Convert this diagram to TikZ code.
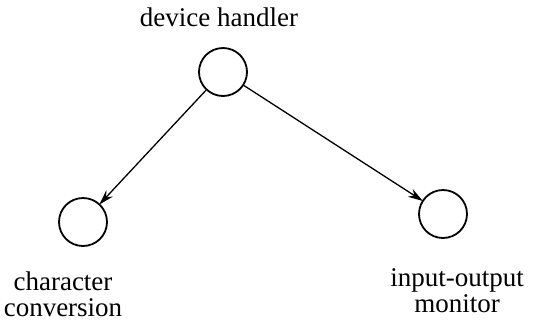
\documentclass[tikz,border=0pt]{standalone}
\usepackage{fontspec}
\setmainfont{Liberation Serif}
\usetikzlibrary{arrows.meta}
\begin{document}
\begin{tikzpicture}[x=1pt,y=-1pt,
  proc/.style={circle,draw,line width=1.8pt,minimum size=48pt,inner sep=0pt},
  lbl/.style={font=\fontsize{27}{26}\selectfont,align=center,inner sep=0pt},
  link/.style={line width=1.3pt,shorten >=-1pt,-{Stealth[length=15pt,width=9pt]}}]
\useasboundingbox (0,0) rectangle (560,322);
\node[proc] (dh) at (223,72) {};
\node[proc] (cc) at (83,222) {};
\node[proc] (io) at (443,214) {};
\node[lbl] (dhl) at (219,17) {device handler};
\node[lbl] (ccl) at (63,294) {character\\conversion};
\node[lbl] (iol) at (457,291) {input-output\\monitor};
\draw[link] (dh) -- (cc);
\draw[link] (dh) -- (io);
\end{tikzpicture}
\end{document}
